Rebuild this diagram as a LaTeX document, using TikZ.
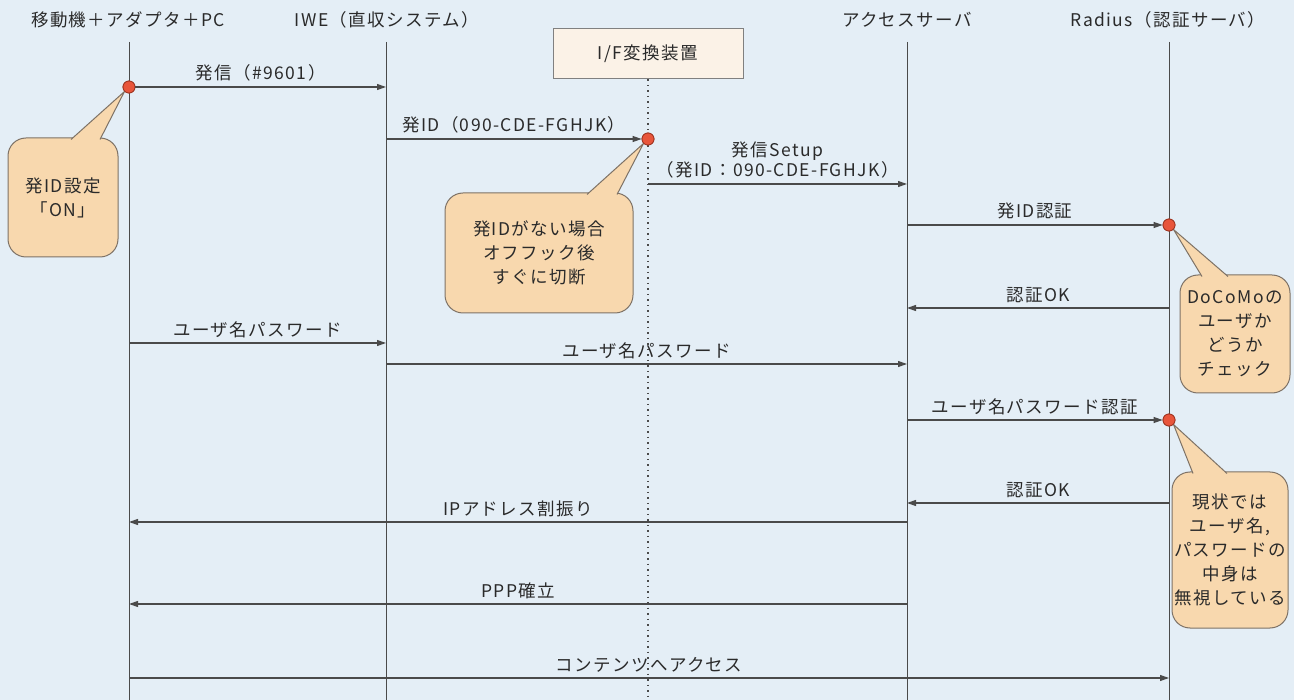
\documentclass[tikz,border=0pt]{standalone}
\usepackage{fontspec}
\setmainfont{Noto Sans CJK JP}[LetterSpace=8]
\usetikzlibrary{arrows.meta}
\definecolor{bg}{HTML}{E4EEF6}
\definecolor{callfill}{HTML}{F8D8AE}
\definecolor{calldraw}{HTML}{7E7266}
\definecolor{boxfill}{HTML}{FBF2E7}
\definecolor{dotfill}{HTML}{E8553B}
\definecolor{dotdraw}{HTML}{9E3522}
\definecolor{txt}{HTML}{2A2A2A}
\definecolor{ln}{HTML}{4A4A4A}
\tikzset{
  life/.style={draw=ln, line width=1pt},
  msg/.style={draw=ln, line width=1.1pt, -{Triangle[length=9pt,width=6pt]}},
  lbl/.style={text=txt, font=\fontsize{17.5}{22}\selectfont, inner sep=2pt, align=center},
  head/.style={text=txt, font=\fontsize{17.5}{22}\selectfont, inner sep=0pt},
  callout/.style={draw=calldraw, line width=1pt, fill=callfill, rounded corners=18pt, text=txt,
     font=\fontsize{17.5}{24}\selectfont, align=center, inner sep=0pt},
  reddot/.style={circle, draw=dotdraw, fill=dotfill, line width=0.8pt, minimum size=12pt, inner sep=0pt},
  ifbox/.style={draw=ln!70, line width=1pt, fill=boxfill, text=txt, font=\fontsize{17.5}{22}\selectfont,
     minimum width=190pt, minimum height=50pt, inner sep=0pt}
}
\begin{document}
\begin{tikzpicture}[x=1pt,y=-1pt]
\fill[bg] (0,0) rectangle (1294,700);
\useasboundingbox (0,0) rectangle (1294,700);

% headers
\node[head] (hpc) at (128,20) {移動機＋アダプタ＋PC};
\node[head] (hiwe) at (387,20) {IWE（直収システム）};
\node[ifbox] (hif) at (648,54) {I/F変換装置};
\node[head] (has) at (907,20) {アクセスサーバ};
\node[head] (hrad) at (1168,20) {Radius（認証サーバ）};

% lifelines
\coordinate (pcT) at (129,42);  \coordinate (pcB) at (129,700);
\coordinate (iweT) at (386,42); \coordinate (iweB) at (386,700);
\coordinate (asT) at (907,42);  \coordinate (asB) at (907,700);
\coordinate (radT) at (1169,42); \coordinate (radB) at (1169,700);
\coordinate (ifB) at (648,700);
\draw[life] (pcT) -- (pcB);
\draw[life] (iweT) -- (iweB);
\draw[life] (asT) -- (asB);
\draw[life] (radT) -- (radB);
\draw[draw=ln, line width=1.2pt, dash pattern=on 1.5pt off 4pt] (hif.south) -- (ifB);

% callouts
\node[callout, minimum width=110pt, minimum height=119pt] (c1) at (63,197.5) {発ID設定\\「ON」};
\node[callout, minimum width=188pt, minimum height=120pt] (c2) at (539,253) {発IDがない場合\\オフフック後\\すぐに切断};
\node[callout, minimum width=110pt, minimum height=118pt] (c3) at (1235,334) {DoCoMoの\\ユーザか\\どうか\\チェック};
\node[callout, minimum width=116pt, minimum height=156pt] (c4) at (1230,550) {現状では\\ユーザ名,\\パスワードの\\中身は\\無視している};

% red dots
\node[reddot] (d1) at (129,87) {};
\node[reddot] (d2) at (648,139) {};
\node[reddot] (d3) at (1169,225) {};
\node[reddot] (d4) at (1169,420) {};

% pointers
\coordinate (p1a) at (71,139.5); \coordinate (p1b) at (100,139.5); \coordinate (p1t) at (d1.south west);
\coordinate (p2a) at (587,194.5); \coordinate (p2b) at (617,194.5); \coordinate (p2t) at (d2.south west);
\coordinate (p3a) at (1202,276.5); \coordinate (p3b) at (1228,276.5); \coordinate (p3t) at (d3.south east);
\coordinate (p4a) at (1193,473.5); \coordinate (p4b) at (1227,473.5); \coordinate (p4t) at (d4.south east);
\foreach \p in {1,2,3,4}{
  \fill[callfill] (p\p a) -- (p\p t) -- (p\p b) -- cycle;
  \draw[draw=calldraw, line width=1pt, line join=round] (p\p a) -- (p\p t) -- (p\p b);
}
\node[reddot] at (d1) {};
\node[reddot] at (d2) {};
\node[reddot] at (d3) {};
\node[reddot] at (d4) {};

% message coordinates
\coordinate (iwe1) at (386,87);
\coordinate (iwe2) at (386,139);
\coordinate (if3) at (648,184);  \coordinate (as3) at (907,184);
\coordinate (as4) at (907,225);
\coordinate (rad5) at (1169,308); \coordinate (as5) at (907,308);
\coordinate (pc6) at (129,343);  \coordinate (iwe6) at (386,343);
\coordinate (iwe7) at (386,364); \coordinate (as7) at (907,364);
\coordinate (as8) at (907,420);
\coordinate (rad9) at (1169,503); \coordinate (as9) at (907,503);
\coordinate (as10) at (907,522); \coordinate (pc10) at (129,522);
\coordinate (as11) at (907,604); \coordinate (pc11) at (129,604);
\coordinate (pc12) at (129,678); \coordinate (rad12) at (1169,678);

% messages
\draw[msg] (d1.east) -- node[lbl, midway, above=3pt] {発信（\#9601）} (iwe1);
\draw[msg] (iwe2) -- node[lbl, midway, above=3pt] {発ID（090-CDE-FGHJK）} (d2.west);
\draw[msg] (if3) -- node[lbl, midway, above=3pt, font=\fontsize{17.5}{20}\selectfont] {発信Setup\\（発ID：090-CDE-FGHJK）} (as3);
\draw[msg] (as4) -- node[lbl, midway, above=3pt] {発ID認証} (d3.west);
\draw[msg] (rad5) -- node[lbl, midway, above=3pt] {認証OK} (as5);
\draw[msg] (pc6) -- node[lbl, midway, above=3pt] {ユーザ名パスワード} (iwe6);
\draw[msg] (iwe7) -- node[lbl, midway, above=3pt] {ユーザ名パスワード} (as7);
\draw[msg] (as8) -- node[lbl, midway, above=3pt] {ユーザ名パスワード認証} (d4.west);
\draw[msg] (rad9) -- node[lbl, midway, above=3pt] {認証OK} (as9);
\draw[msg] (as10) -- node[lbl, midway, above=3pt] {IPアドレス割振り} (pc10);
\draw[msg] (as11) -- node[lbl, midway, above=3pt] {PPP確立} (pc11);
\draw[msg] (pc12) -- node[lbl, midway, above=3pt] {コンテンツへアクセス} (rad12);
\end{tikzpicture}
\end{document}
